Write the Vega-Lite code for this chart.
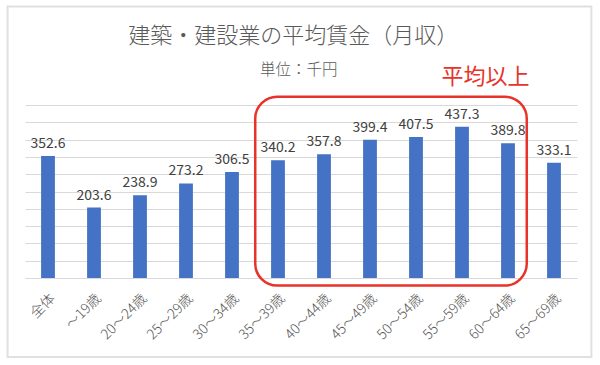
{
  "$schema": "https://vega.github.io/schema/vega-lite/v6.json",
  "width": 552,
  "height": 173,
  "autosize": {"type": "none"},
  "padding": {"left": 25, "top": 105, "right": 23, "bottom": 87},
  "background": "white",
  "config": {
    "view": {"stroke": null},
    "font": "Noto Sans CJK JP",
    "axisY": {
      "title": null,
      "labels": false,
      "ticks": false,
      "domain": false,
      "grid": true,
      "gridColor": "#d9d9d9",
      "gridWidth": 1
    }
  },
  "datasets": {
    "wages": [
      {"age": "全体", "value": 352.6},
      {"age": "～19歳", "value": 203.6},
      {"age": "20～24歳", "value": 238.9},
      {"age": "25～29歳", "value": 273.2},
      {"age": "30～34歳", "value": 306.5},
      {"age": "35～39歳", "value": 340.2},
      {"age": "40～44歳", "value": 357.8},
      {"age": "45～49歳", "value": 399.4},
      {"age": "50～54歳", "value": 407.5},
      {"age": "55～59歳", "value": 437.3},
      {"age": "60～64歳", "value": 389.8},
      {"age": "65～69歳", "value": 333.1}
    ],
    "box": [{"start": "35～39歳", "end": "60～64歳", "top": 524, "bottom": -22}],
    "note": [{"age": "55～59歳", "y": 582, "label": "平均以上"}],
    "heading": [{"age": "35～39歳", "y": 700, "label": "建築・建設業の平均賃金（月収）"}],
    "unit": [{"age": "35～39歳", "y": 602, "label": "単位：千円"}],
    "frame": [{"start": "全体", "end": "65～69歳", "top": 785, "bottom": -228}]
  },
  "layer": [
    {
      "data": {"name": "wages"},
      "mark": {"type": "bar", "color": "#4472C4"},
      "encoding": {
        "x": {
          "field": "age",
          "type": "nominal",
          "sort": null,
          "scale": {
            "domain": ["全体", "～19歳", "20～24歳", "25～29歳", "30～34歳", "35～39歳", "40～44歳", "45～49歳", "50～54歳", "55～59歳", "60～64歳", "65～69歳"],
            "paddingInner": 0.7,
            "paddingOuter": 0.35
          },
          "axis": {
            "title": null,
            "labelAngle": -45,
            "labelFontSize": 14,
            "labelFontWeight": 300,
            "labelColor": "#595959",
            "labelPadding": 13,
            "ticks": false,
            "domainColor": "#d9d9d9",
            "domainWidth": 1
          }
        },
        "y": {
          "field": "value",
          "type": "quantitative",
          "scale": {"domain": [0, 500], "nice": false},
          "axis": {"title": null, "values": [0, 50, 100, 150, 200, 250, 300, 350, 400, 450, 500]}
        }
      }
    },
    {
      "data": {"name": "wages"},
      "mark": {"type": "text", "baseline": "bottom", "dy": -5, "fontSize": 14, "color": "#404040"},
      "encoding": {
        "x": {"field": "age", "type": "nominal", "sort": null},
        "y": {"field": "value", "type": "quantitative", "axis": {"title": null, "values": [0, 50, 100, 150, 200, 250, 300, 350, 400, 450, 500]}},
        "text": {"field": "value", "type": "quantitative", "format": ".1f"}
      }
    },
    {
      "data": {"name": "box"},
      "mark": {"type": "rect", "fill": "transparent", "stroke": "#E8322A", "strokeWidth": 2.5, "cornerRadius": 22, "clip": false},
      "encoding": {
        "x": {"field": "start", "type": "nominal", "bandPosition": -1.15},
        "x2": {"field": "end", "bandPosition": 1.86},
        "y": {"field": "top", "type": "quantitative", "axis": {"title": null, "values": [0, 50, 100, 150, 200, 250, 300, 350, 400, 450, 500]}},
        "y2": {"field": "bottom"}
      }
    },
    {
      "data": {"name": "note"},
      "mark": {"type": "text", "fontSize": 22, "color": "#E8322A", "baseline": "middle", "align": "center", "clip": false},
      "encoding": {
        "x": {"field": "age", "type": "nominal", "bandPosition": 2.21},
        "y": {"field": "y", "type": "quantitative", "axis": {"title": null, "values": [0, 50, 100, 150, 200, 250, 300, 350, 400, 450, 500]}},
        "text": {"field": "label", "type": "nominal"}
      }
    },
    {
      "data": {"name": "heading"},
      "mark": {"type": "text", "fontSize": 22, "fontWeight": 300, "color": "#595959", "baseline": "middle", "align": "center", "clip": false},
      "encoding": {
        "x": {"field": "age", "type": "nominal", "bandPosition": 1.61},
        "y": {"field": "y", "type": "quantitative", "axis": {"title": null, "values": [0, 50, 100, 150, 200, 250, 300, 350, 400, 450, 500]}},
        "text": {"field": "label", "type": "nominal"}
      }
    },
    {
      "data": {"name": "unit"},
      "mark": {"type": "text", "fontSize": 15.5, "fontWeight": 300, "color": "#595959", "baseline": "middle", "align": "center", "clip": false},
      "encoding": {
        "x": {"field": "age", "type": "nominal", "bandPosition": 2.0},
        "y": {"field": "y", "type": "quantitative", "axis": {"title": null, "values": [0, 50, 100, 150, 200, 250, 300, 350, 400, 450, 500]}},
        "text": {"field": "label", "type": "nominal"}
      }
    },
    {
      "data": {"name": "frame"},
      "mark": {"type": "rect", "fill": "transparent", "stroke": "#e0e0e0", "strokeWidth": 2, "clip": false},
      "encoding": {
        "x": {"field": "start", "type": "nominal", "bandPosition": -2.43},
        "x2": {"field": "end", "bandPosition": 3.21},
        "y": {"field": "top", "type": "quantitative", "axis": {"title": null, "values": [0, 50, 100, 150, 200, 250, 300, 350, 400, 450, 500]}},
        "y2": {"field": "bottom"}
      }
    }
  ]
}
